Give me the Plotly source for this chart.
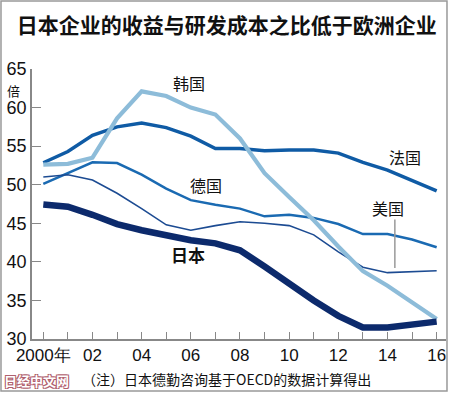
import plotly.graph_objects as go

years = list(range(2000, 2017))
korea = [52.6, 52.7, 53.5, 58.6, 62.1, 61.5, 60.0, 59.1, 56.0, 51.5, 48.4, 45.4, 42.0, 38.8, 36.9, 34.8, 32.6]
france = [52.85, 54.3, 56.4, 57.5, 58.0, 57.4, 56.3, 54.7, 54.7, 54.4, 54.5, 54.5, 54.1, 52.9, 51.9, 50.6, 49.2]
germany = [50.1, 51.5, 52.9, 52.8, 51.3, 49.5, 48.0, 47.4, 46.9, 45.9, 46.1, 45.7, 44.9, 43.6, 43.6, 42.9, 41.9]
usa = [51.0, 51.3, 50.6, 48.9, 46.9, 44.8, 44.1, 44.7, 45.2, 45.0, 44.7, 43.5, 41.3, 39.3, 38.6, 38.7, 38.85]
japan = [47.45, 47.15, 46.1, 44.9, 44.1, 43.4, 42.8, 42.4, 41.5, 39.4, 37.1, 35.0, 33.0, 31.5, 31.5, 31.8, 32.25]

x_tickvals = [2000, 2002, 2004, 2006, 2008, 2010, 2012, 2014, 2016]
x_ticktext = ["2000年", "02", "04", "06", "08", "10", "12", "14", "16"]
y_tickvals = [30, 35, 40, 45, 50, 55, 60, 65]

CJK = "Noto Sans CJK SC"
NUM = "Liberation Sans Narrow, Liberation Sans, Arial"

fig = go.Figure()
series = [
    (germany, "#1a6ab2", 2.5),
    (usa, "#1c4b92", 1.6),
    (france, "#0f5ba5", 3.5),
    (korea, "#8dbcd9", 4.2),
    (japan, "#0c2a6c", 6.5),
]
for vals, color, w in series:
    fig.add_trace(go.Scatter(x=years, y=vals, mode="lines",
                             line=dict(color=color, width=w),
                             showlegend=False, hoverinfo="skip"))

labels = [
    ("韩国", 2005.93, 63.2, False),
    ("法国", 2014.71, 53.6, False),
    ("德国", 2006.62, 49.96, False),
    ("美国", 2014.02, 46.98, False),
    ("日本", 2005.89, 40.9, True),
]
for txt, xx, yy, bold in labels:
    fig.add_annotation(x=xx, y=yy, xref="x", yref="y", text=("<b>%s</b>" % txt) if bold else txt,
                       showarrow=False, font=dict(family=CJK, size=17 if bold else 16, color="#111"))

fig.add_shape(type="line", xref="x", yref="y", x0=2014.3, x1=2014.3, y0=45.5, y1=39.2,
              line=dict(color="#999", width=1.5))

fig.add_annotation(x=-0.0435, y=0.922, xref="paper", yref="paper", text="倍", showarrow=False,
                   xanchor="center", yanchor="middle",
                   font=dict(family=CJK, size=13, color="#111"))
fig.add_annotation(x=0.47, y=-0.148, xref="paper", yref="paper",
                   text="（注）日本德勤咨询基于OECD的数据计算得出", showarrow=False,
                   xanchor="center", yanchor="middle",
                   font=dict(family=CJK, size=14, color="#111"))
oc = "#b0606e"
fig.add_annotation(x=0.0109, y=-0.152, xref="paper", yref="paper", text="<b>日经中文网</b>",
                   showarrow=False, xanchor="center", yanchor="middle",
                   font=dict(family=CJK, size=13, color="white",
                             shadow="-1px -1px 0 %s, 1px -1px 0 %s, -1px 1px 0 %s, 1px 1px 0 %s" % (oc, oc, oc, oc)))

fig.add_shape(type="rect", xref="paper", yref="paper", x0=-0.0749, x1=1.0024, y0=-0.1926, y1=1.2519,
              line=dict(color="#999", width=1.5))

fig.update_layout(
    width=450, height=393,
    margin=dict(l=32, r=4, t=69, b=54),
    paper_bgcolor="white", plot_bgcolor="white",
    title=dict(text="<b>日本企业的收益与研发成本之比低于欧洲企业</b>", x=0.504, xanchor="center",
               y=0.936, yanchor="middle", font=dict(family=CJK, size=21, color="#111")),
    xaxis=dict(range=[1999.54, 2016.38], tickvals=x_tickvals, ticktext=x_ticktext,
               ticks="inside", ticklen=7, tickcolor="#888", showgrid=False, zeroline=False,
               showline=True, linecolor="#888", linewidth=1.5,
               tickfont=dict(family=NUM, size=17, color="#111"),
               minor=dict(tickvals=years, ticks="inside", ticklen=7, tickcolor="#888", showgrid=False)),
    yaxis=dict(range=[30, 65], tickvals=y_tickvals, ticks="inside", ticklen=9, tickcolor="#888",
               showgrid=False, zeroline=False, showline=True, linecolor="#888", linewidth=1.5,
               tickfont=dict(family=NUM, size=18, color="#111")),
)

fig.write_html("out.html", config={"displayModeBar": False},
               post_script="document.body.style.margin='0';document.body.style.overflow='hidden';")
